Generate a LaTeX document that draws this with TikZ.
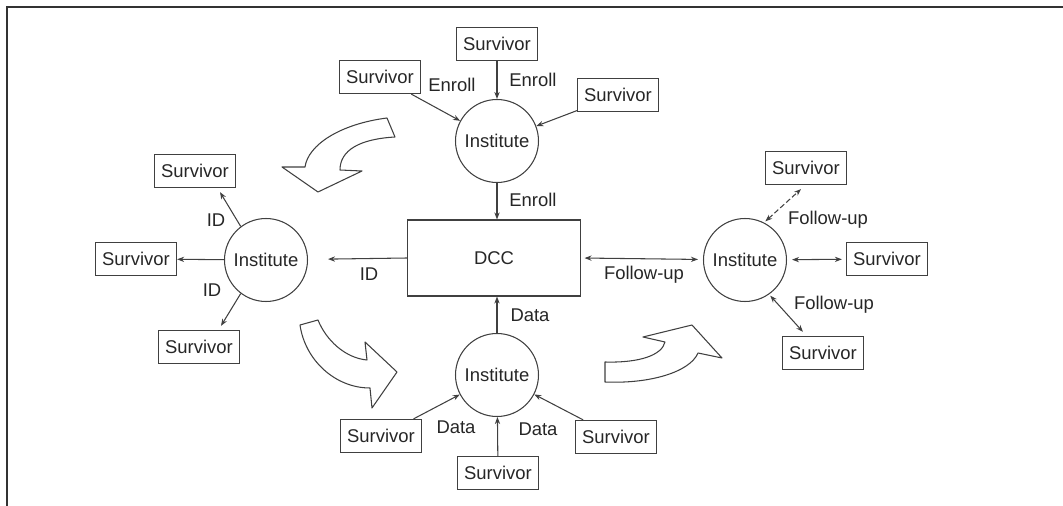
\documentclass[tikz,border=0pt]{standalone}
\usepackage{fontspec}
\setmainfont{Liberation Sans}
\usetikzlibrary{arrows.meta,positioning,calc}

\begin{document}
\begin{tikzpicture}[
  x=0.02cm, y=-0.02cm,
  every node/.style={font=\fontsize{10.5}{12}\selectfont, text=black!85},
  surv/.style={rectangle, draw=black!75, line width=0.7pt, minimum width=1.62cm, minimum height=0.66cm, inner sep=1pt},
  inst/.style={circle, draw=black!75, line width=0.6pt, minimum size=1.66cm, inner sep=0pt},
  dccbox/.style={rectangle, draw=black!75, line width=0.6pt, minimum width=3.46cm, minimum height=1.52cm},
  flow/.style={draw=black!75, line width=0.6pt, -{Stealth[length=4pt,width=3pt]}},
  twoway/.style={draw=black!75, line width=0.6pt, {Stealth[length=4pt,width=3pt]}-{Stealth[length=4pt,width=3pt]}},
  bigarrow/.style={draw=black!75, line width=0.6pt, fill=white, line join=round},
]
\useasboundingbox (0,0) rectangle (1063,506);
\draw[black!80, line width=0.8pt] (7,506) -- (7,7) -- (1063,7);

\node[dccbox] (dcc) at (494,258) {DCC};

\node[inst] (instTop) at (497,141) {Institute};
\node[surv] (survTopA) at (380,77) {Survivor};
\node[surv] (survTopB) at (497,44) {Survivor};
\node[surv] (survTopC) at (618,95) {Survivor};
\draw[flow] (survTopA) -- (instTop);
\draw[flow] (survTopB) -- (instTop);
\draw[flow] (survTopC) -- (instTop);
\draw[flow] (instTop) -- (instTop |- dcc.north);
\node (enrollA) at (452,85) {Enroll};
\node (enrollB) at (533,80) {Enroll};
\node (enrollC) at (533,200) {Enroll};

\node[inst] (instLeft) at (266,260) {Institute};
\node[surv] (survLeftA) at (195,171) {Survivor};
\node[surv] (survLeftB) at (136,259) {Survivor};
\node[surv] (survLeftC) at (199,347) {Survivor};
\draw[flow, shorten >=0.4cm] (dcc.west) -- (instLeft);
\draw[flow] (instLeft.127) -- ($(survLeftA.south)+(25,4)$);
\draw[flow] (instLeft) -- (survLeftB);
\draw[flow] (instLeft.233) -- ($(survLeftC.north)+(22,-4)$);
\node (idA) at (216,220) {ID};
\node (idB) at (212,290) {ID};
\node (idC) at (369,274) {ID};

\node[inst] (instRight) at (745,260) {Institute};
\node[surv] (survRightA) at (806,168) {Survivor};
\node[surv] (survRightB) at (887,259) {Survivor};
\node[surv] (survRightC) at (823,353) {Survivor};
\draw[twoway, shorten <=2pt, shorten >=0.1cm] (dcc.east) -- (instRight);
\draw[twoway, dash pattern=on 3pt off 1.5pt, shorten <=1pt] (instRight.63) -- ($(survRightA.south)+(-5,4)$);
\draw[twoway, shorten <=0.1cm, shorten >=0.08cm] (instRight) -- (survRightB);
\draw[twoway, shorten <=1pt] (instRight.305) -- ($(survRightC.north)+(-20,-4)$);
\node (followA) at (828,220) {Follow-up};
\node (followB) at (644,275) {Follow-up};
\node (followC) at (834,305) {Follow-up};

\node[inst] (instBottom) at (497,375) {Institute};
\node[surv] (survBottomA) at (381,436) {Survivor};
\node[surv] (survBottomB) at (498,473) {Survivor};
\node[surv] (survBottomC) at (616,437) {Survivor};
\draw[flow] (instBottom) -- (instBottom |- dcc.south);
\draw[flow] (survBottomA) -- (instBottom);
\draw[flow] (survBottomB) -- (instBottom);
\draw[flow] (survBottomC) -- (instBottom);
\node (dataA) at (530,315) {Data};
\node (dataB) at (456,427) {Data};
\node (dataC) at (538,429) {Data};

\draw[bigarrow] (387,118) -- (395,137) .. controls (360,139) and (340,150) .. (340,170)
  -- (362,171) -- (318,192) -- (282,167) -- (305,167)
  .. controls (308,145) and (340,124) .. (387,118) -- cycle;
\draw[bigarrow] (300,325) -- (318,320) .. controls (326,340) and (345,358) .. (367,360)
  -- (365,342) -- (397,372) -- (372,408) -- (370,388)
  .. controls (335,388) and (305,360) .. (300,325) -- cycle;
\draw[bigarrow] (605,362) .. controls (640,363) and (662,355) .. (665,342)
  -- (643,337) -- (692,325) -- (722,358) -- (698,353)
  .. controls (690,372) and (650,384) .. (605,382) -- cycle;
\end{tikzpicture}
\end{document}
